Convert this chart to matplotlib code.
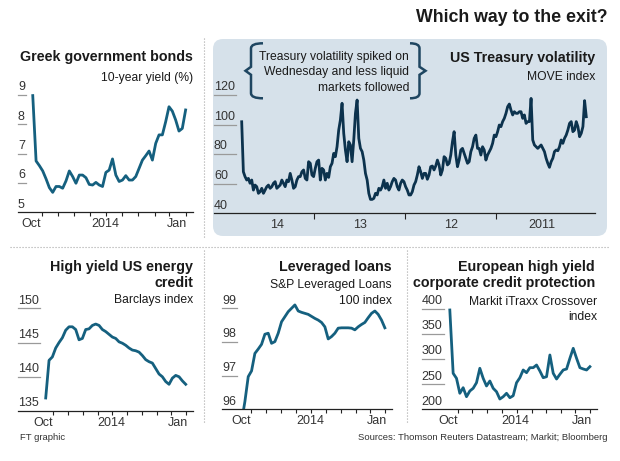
"""Which way to the exit? —— 五个小图组合（参考图为左右镜像排版）。"""

import matplotlib

matplotlib.use("Agg")
import matplotlib.pyplot as plt
import numpy as np
import pandas as pd
from matplotlib.lines import Line2D
from matplotlib.patches import FancyBboxPatch, PathPatch
from matplotlib.path import Path
from matplotlib.transforms import Affine2D, blended_transform_factory

plt.rcParams["font.family"] = ["Liberation Sans", "DejaVu Sans"]

# ---- 数据（按时间顺序） ----
greek_yield = [8.49, 7.86, 7.77, 8.15, 8.45, 8.60, 8.09, 7.64, 7.64, 7.35, 6.78, 7.09, 6.93, 6.78,
               6.50, 6.22, 6.10, 6.10, 6.25, 6.10, 6.05, 6.27, 6.82, 6.44, 6.36, 5.88, 5.93, 6.02,
               5.93, 5.95, 6.18, 6.27, 6.27, 5.99, 6.22, 6.41, 6.07, 5.82, 5.88, 5.88, 5.68, 5.84,
               6.14, 6.41, 6.59, 6.75, 8.98]
greek_span = ("2014-01-01", "2014-10-18")

move_index = [105.3, 116.2, 98.6, 94.1, 91.8, 98.6, 102.0, 96.3, 95.2, 102.0,
              100.8, 96.3, 92.9, 90.7, 87.3, 89.6, 85.0, 82.3, 82.8, 81.7,
              77.2, 74.9, 71.1, 73.8, 77.2, 81.7, 83.9, 86.2, 85.0, 83.9,
              85.0, 86.2, 89.6, 117.7, 102.0, 102.0, 100.8, 106.5, 104.2, 108.7,
              108.7, 107.6, 107.6, 108.7, 106.5, 109.8, 113.9, 112.1, 107.6, 104.2,
              102.0, 98.6, 99.7, 95.2, 91.8, 92.9, 87.3, 83.9, 81.7, 79.4,
              76.0, 82.8, 85.0, 79.4, 83.9, 83.9, 92.9, 90.7, 85.0, 81.7,
              74.9, 73.8, 77.2, 80.5, 83.9, 82.8, 76.0, 71.5, 79.4, 95.2,
              88.4, 79.4, 73.8, 72.7, 77.2, 78.3, 69.3, 65.9, 72.7, 76.0,
              72.0, 69.3, 72.0, 71.5, 65.9, 63.0, 67.0, 67.0, 63.6, 68.1,
              71.5, 65.9, 61.4, 59.1, 54.6, 52.4, 52.4, 55.7, 58.0, 61.4, 62.5, 60.3,
              55.7, 58.0, 62.5, 63.6, 61.4, 58.0, 55.7, 60.3, 56.9, 62.5,
              58.0, 55.7, 56.9, 52.4, 53.5, 50.1, 49.4, 49.4, 53.5, 62.5,
              67.0, 76.0, 81.7, 83.9, 90.7, 116.6, 107.6, 89.6, 74.9, 86.2,
              88.4, 74.9, 82.8, 94.1, 114.4, 103.1, 96.3, 85.0, 78.3, 80.5,
              73.8, 71.5, 64.3, 67.0, 62.5, 69.3, 70.4, 62.5, 76.0, 74.9,
              70.4, 64.8, 65.9, 73.8, 74.9, 62.5, 63.6, 69.3, 68.1, 64.8,
              64.8, 62.5, 58.0, 56.9, 62.5, 67.0, 61.4, 62.5, 58.0, 60.3,
              62.5, 59.1, 58.0, 56.9, 61.4, 60.3, 58.0, 56.9, 59.1, 58.0,
              55.7, 53.5, 56.9, 54.6, 53.5, 58.0, 59.1, 55.7, 62.5, 60.3,
              63.6, 62.5, 64.8, 68.1, 101.9]
move_span = ("2011-01-05", "2014-10-17")

energy_index = [138.9, 139.4, 140.0, 140.2, 139.8, 138.9, 139.3, 140.0, 140.4, 141.2, 142.0,
                142.2, 142.5, 143.1, 143.6, 143.8, 143.9, 144.2, 144.6, 144.9, 145.1, 145.6,
                145.8, 146.2, 146.6, 146.9, 147.5, 147.7, 147.5, 147.0, 146.9, 145.6, 145.4,
                146.9, 147.3, 147.3, 146.8, 145.7, 145.0, 144.2, 142.9, 142.4, 136.9]
energy_span = ("2014-01-01", "2014-10-16")

loans_index = [98.42, 98.65, 98.82, 98.92, 98.85, 98.72, 98.58, 98.52, 98.45, 98.36, 98.41,
               98.42, 98.42, 98.42, 98.41, 98.26, 98.16, 98.09, 98.45, 98.58, 98.65, 98.70,
               98.76, 98.82, 98.85, 98.88, 98.92, 99.10, 99.00, 98.90, 98.75, 98.60, 98.26,
               98.01, 97.96, 98.26, 98.23, 97.93, 97.79, 97.66, 97.14, 96.97, 96.23, 95.63]
loans_span = ("2014-01-01", "2014-10-21")

xover_index = [285.0, 278.4, 280.4, 283.0, 301.7, 321.6, 301.7, 280.4, 278.4, 269.8, 260.4,
               271.8, 308.3, 265.0, 263.0, 276.4, 288.3, 283.0, 283.0, 273.0, 278.4, 263.0,
               253.0, 227.1, 223.1, 231.9, 225.1, 220.5, 235.1, 241.9, 256.4, 246.5, 261.8,
               281.8, 253.0, 241.9, 236.5, 225.1, 243.1, 231.9, 261.8, 271.8, 398.0]
xover_span = ("2014-01-01", "2014-10-17")

month_ticks = pd.date_range("2014-01-01", "2014-10-01", freq="MS")
month_labels = ["Oct", "2014", "Jan"]
month_label_dates = pd.to_datetime(["2014-10-21", "2014-06-03", "2014-01-17"])
year_ticks = pd.to_datetime(["2012-01-01", "2013-01-01", "2014-01-01"])
year_labels = ["14", "13", "12", "2011"]
year_label_dates = pd.to_datetime(["2014-05-28", "2013-07-01", "2012-07-01", "2011-07-01"])

W, H = 620, 461
DARK = "#0c324d"
TEAL = "#15607f"
GREY = "#9a9a9a"
TXT = "#1a1a1a"

fig = plt.figure(figsize=(W / 100, H / 100), dpi=100)
# 像素坐标（y 向下）
PX = Affine2D().scale(1 / 100, -1 / 100).translate(0, H / 100) + fig.dpi_scale_trans


def series_dates(values, span):
    return pd.to_datetime(np.linspace(pd.Timestamp(span[0]).value, pd.Timestamp(span[1]).value, len(values)))


def make_panel(box, xlim, yref):
    left, right, top, base = box
    lo, hi, hi_px = yref
    ax = fig.add_axes([left / W, 1 - base / H, (right - left) / W, (base - top) / H])
    ppu = (base - hi_px) / (hi - lo)
    ax.set_ylim(lo, lo + (base - top) / ppu)
    # 参考图为镜像：时间从右往左
    ax.set_xlim(pd.Timestamp(xlim[0]), pd.Timestamp(xlim[1]))
    ax.patch.set_visible(False)
    for side in ("top", "right", "left"):
        ax.spines[side].set_visible(False)
    ax.spines["bottom"].set_color("#222222")
    ax.spines["bottom"].set_linewidth(0.9)
    ax.set_yticks([])
    return ax


def x_axis(ax, ticks, label_dates, labels, tick_len):
    ax.set_xticks(ticks)
    ax.set_xticks(label_dates, labels, minor=True)
    ax.tick_params(axis="x", which="major", length=tick_len, width=0.8, color="#222222", labelbottom=False)
    ax.tick_params(axis="x", which="minor", length=0, pad=4.3, labelsize=9, labelcolor="#333333")


def y_labels(ax, values):
    tr = blended_transform_factory(ax.transAxes, ax.transData)
    texts = []
    for v in values:
        t = ax.annotate(str(v), (0, v), xycoords=tr, xytext=(0, 1.2), textcoords="offset points",
                        ha="left", va="bottom", fontsize=9, color="#333333")
        texts.append(t)
    return tr, texts


def txt(x, y, s, size, weight="normal", ha="right", color=TXT):
    fig.text(x, y, s, transform=PX, fontsize=size, fontweight=weight, ha=ha, va="center", color=color)


def brace(xv, xe, xt, y0, y1):
    ym = (y0 + y1) / 2
    r = 5
    verts = [(xe, y0), (xv, y0), (xv, y0 + r), (xv, ym - 4), (xt, ym), (xv, ym + 4),
             (xv, y1 - r), (xv, y1), (xe, y1)]
    codes = [Path.MOVETO, Path.CURVE3, Path.CURVE3, Path.LINETO, Path.LINETO, Path.LINETO,
             Path.LINETO, Path.CURVE3, Path.CURVE3]
    fig.add_artist(PathPatch(Path(verts, codes), transform=PX, fill=False, edgecolor="#1f4661",
                             linewidth=1.8, capstyle="butt", joinstyle="miter"))


# 背景圆角框（美国国债波动率）
fig.add_artist(FancyBboxPatch((2.13, (H - 236) / 100), 3.94, 1.97, boxstyle="round,pad=0,rounding_size=0.1",
                              transform=fig.dpi_scale_trans, facecolor="#d6e1ea", edgecolor="none", zorder=-5))

# 虚线分隔
for xs, ys in [((204, 204), (38, 238)), ((10, 610), (247.5, 247.5)),
               ((204, 204), (250, 423)), ((407, 407), (250, 423))]:
    fig.add_artist(Line2D(xs, ys, transform=PX, color="#a8a8a8", linewidth=0.8, linestyle=(0, (1, 1.7))))

panels = []

ax_gr = make_panel((18, 193, 88, 212.3), ("2014-11-15", "2013-12-18"), (5, 9, 95))
ax_gr.plot(series_dates(greek_yield, greek_span), greek_yield, color=TEAL, lw=2.0, solid_joinstyle="round")
x_axis(ax_gr, month_ticks, month_label_dates, month_labels, 3)
panels.append((ax_gr, *y_labels(ax_gr, [5, 6, 7, 8, 9])))

ax_tr = make_panel((214, 595, 88, 213.3), ("2015-02-05", "2010-12-01"), (40, 120, 95))
ax_tr.plot(series_dates(move_index, move_span), move_index, color=DARK, lw=2.0, solid_joinstyle="round")
x_axis(ax_tr, year_ticks, year_label_dates, year_labels, 4.6)
panels.append((ax_tr, *y_labels(ax_tr, [40, 60, 80, 100, 120])))

ax_en = make_panel((18, 193, 300, 411), ("2014-12-12", "2013-12-17"), (135, 150, 308.3))
ax_en.plot(series_dates(energy_index, energy_span), energy_index, color=TEAL, lw=2.0, solid_joinstyle="round")
x_axis(ax_en, month_ticks, month_label_dates, month_labels, 3)
panels.append((ax_en, *y_labels(ax_en, [135, 140, 145, 150])))

ax_ln = make_panel((222, 391.7, 300, 409.3), ("2014-11-30", "2013-12-18"), (96, 99, 308.3))
ax_ln.plot(series_dates(loans_index, loans_span), loans_index, color=TEAL, lw=2.0, solid_joinstyle="round")
x_axis(ax_ln, month_ticks, month_label_dates, month_labels, 3)
panels.append((ax_ln, *y_labels(ax_ln, [96, 97, 98, 99])))

ax_xo = make_panel((421.7, 596.7, 300, 409.3), ("2014-12-14", "2013-12-18"), (200, 400, 309))
ax_xo.plot(series_dates(xover_index, xover_span), xover_index, color=TEAL, lw=2.0, solid_joinstyle="round")
x_axis(ax_xo, month_ticks, month_label_dates, month_labels, 3)
panels.append((ax_xo, *y_labels(ax_xo, [200, 250, 300, 350, 400])))

# y 标签下方的短横线，长度取最宽标签
fig.canvas.draw()
renderer = fig.canvas.get_renderer()
for ax, tr, texts in panels:
    width_px = max(t.get_window_extent(renderer).width for t in texts) + 1
    frac = width_px / (ax.get_position().width * W)
    for t in texts[1:]:
        v = t.xy[1]
        ax.plot([0, frac], [v, v], transform=tr, color=GREY, lw=0.9, clip_on=False)

# 文字
txt(608, 18, "Which way to the exit?", 12.8, "bold")

txt(193, 57.5, "Greek government bonds", 10.3, "bold")
txt(193, 77.5, "10-year yield (%)", 8.7)

txt(595, 57.7, "US Treasury volatility", 10.3, "bold")
txt(595, 77.3, "MOVE index", 8.7)
for y, line in zip([56.7, 72.2, 87.7], ["Treasury volatility spiked on", "Wednesday and less liquid",
                                         "markets followed"]):
    txt(409, y, line, 8.7)
brace(251, 263, 245.5, 43.3, 98.3)
brace(419.5, 410, 425.5, 43.3, 98.3)

txt(193, 266.7, "High yield US energy", 10.3, "bold")
txt(193, 283.3, "credit", 10.3, "bold")
txt(193, 300, "Barclays index", 8.7)

txt(391.7, 266.7, "Leveraged loans", 10.3, "bold")
txt(391.7, 285, "S&P Leveraged Loans", 8.7)
txt(391.7, 301, "100 index", 8.7)

txt(595, 266.7, "European high yield", 10.3, "bold")
txt(595, 283.3, "corporate credit protection", 10.3, "bold")
txt(597, 301.7, "Markit iTraxx Crossover", 8.7)
txt(597, 316.7, "index", 8.7)

txt(608, 438, "Sources: Thomson Reuters Datastream; Markit; Bloomberg", 6.8, color="#333333")
txt(20, 438, "FT graphic", 6.8, ha="left", color="#333333")

fig.savefig("out.png", dpi=100)
